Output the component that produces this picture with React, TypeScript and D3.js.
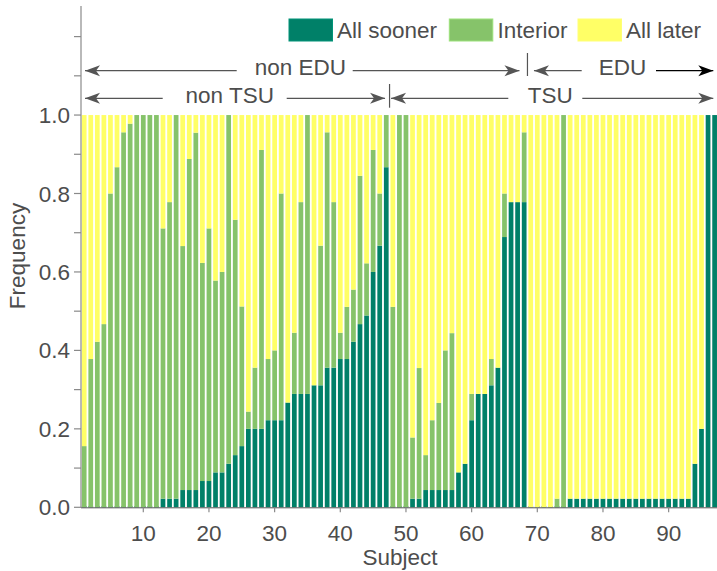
import React from 'react';
import * as d3 from 'd3';

// Subjects 1..97, share of choices per category (each bar sums to 1)
const subjects = d3.range(1, 98);

const sooner = [
  0, 0, 0, 0, 0, 0, 0, 0, 0, 0,
  0, 0, 0.022, 0.022, 0.022, 0.044, 0.044, 0.044, 0.067, 0.067,
  0.089, 0.089, 0.111, 0.133, 0.156, 0.2, 0.2, 0.2, 0.222, 0.222,
  0.222, 0.267, 0.289, 0.289, 0.289, 0.311, 0.311, 0.356, 0.356, 0.378,
  0.378, 0.422, 0.467, 0.489, 0.6, 0.667, 0.867, 0, 0, 0,
  0.022, 0.022, 0.044, 0.044, 0.044, 0.044, 0.044, 0.089, 0.111, 0.222,
  0.289, 0.289, 0.311, 0.356, 0.689, 0.778, 0.778, 0.778, 0, 0,
  0, 0, 0, 0, 0.022, 0.022, 0.022, 0.022, 0.022, 0.022,
  0.022, 0.022, 0.022, 0.022, 0.022, 0.022, 0.022, 0.022, 0.022, 0.022,
  0.022, 0.022, 0.022, 0.111, 0.2, 1, 1,
];

const interior = [
  0.156, 0.378, 0.422, 0.467, 0.8, 0.867, 0.956, 0.978, 1, 1,
  1, 1, 0.689, 0.756, 0.978, 0.622, 0.844, 0.911, 0.556, 0.644,
  0.489, 0.511, 0.889, 0.6, 0.356, 0.044, 0.156, 0.711, 0.156, 0.178,
  0.578, 0, 0.156, 0.489, 0.711, 0, 0.356, 0.6, 0.422, 0.067,
  0.133, 0.133, 0.378, 0.133, 0.311, 0.133, 0.133, 0.511, 1, 1,
  0.156, 0.333, 0.089, 0.178, 0.222, 0.356, 0.4, 0, 0, 0.067,
  0, 0, 0.067, 0, 0.111, 0, 0, 0.178, 0, 0,
  0, 0, 0.022, 1, 0, 0, 0, 0, 0, 0,
  0, 0, 0, 0, 0, 0, 0, 0, 0, 0,
  0, 0, 0, 0, 0, 0, 0,
];

const later = [
  0.844, 0.622, 0.578, 0.533, 0.2, 0.133, 0.044, 0.022, 0, 0,
  0, 0, 0.289, 0.222, 0, 0.334, 0.112, 0.045, 0.377, 0.289,
  0.422, 0.4, 0, 0.267, 0.488, 0.756, 0.644, 0.089, 0.622, 0.6,
  0.2, 0.733, 0.555, 0.222, 0, 0.689, 0.333, 0.044, 0.222, 0.555,
  0.489, 0.445, 0.155, 0.378, 0.089, 0.2, 0, 0.489, 0, 0,
  0.822, 0.645, 0.867, 0.778, 0.734, 0.6, 0.556, 0.911, 0.889, 0.711,
  0.711, 0.711, 0.622, 0.644, 0.2, 0.222, 0.222, 0.044, 1, 1,
  1, 1, 0.978, 0, 0.978, 0.978, 0.978, 0.978, 0.978, 0.978,
  0.978, 0.978, 0.978, 0.978, 0.978, 0.978, 0.978, 0.978, 0.978, 0.978,
  0.978, 0.978, 0.978, 0.889, 0.8, 0, 0,
];

const seriesKeys = ['sooner', 'interior', 'later'];
const seriesLabels = ['All sooner', 'Interior', 'All later'];
const seriesColors = ['#008068', '#86c36a', '#ffff66'];

const yTicks = d3.range(0, 1.25, 0.1);
const yLabelTicks = [0, 0.2, 0.4, 0.6, 0.8, 1.0];
const xTicks = [10, 20, 30, 40, 50, 60, 70, 80, 90];

const W = 717;
const H = 571;
const FONT = '"Liberation Sans", Arial, Helvetica, sans-serif';
const TEXT = '#4d4d4d';
const AXIS = '#8a8a8a';
const ARROW = '#555';

const App = () => {
  const x = d3.scaleBand<number>()
    .domain(subjects)
    .range([80.9, 717.9])
    .paddingInner(0.28)
    .paddingOuter(0.14);
  const y = d3.scaleLinear().domain([0, 1.278]).range([507.3, 6]);

  const table = subjects.map((s, i) => ({
    subject: s,
    sooner: sooner[i],
    interior: interior[i],
    later: later[i],
  }));
  const stacked = d3.stack<any>().keys(seriesKeys)(table);

  const step = x.step();
  const center = (s: number) => (x(s) as number) + x.bandwidth() / 2;
  const divTSU = center(47) + step / 2;
  const divEDU = center(68) + step / 2;
  const leftEnd = 85;
  const rightEnd = 713.3;

  // arrowhead with concave back; dir = -1 points left, 1 points right
  const head = (tx: number, ty: number, dir: number) => {
    const L = 15, h = 5.5, n = 11;
    return `M${tx},${ty}L${tx - dir * L},${ty - h}L${tx - dir * n},${ty}L${tx - dir * L},${ty + h}Z`;
  };

  const row1 = 70.7;
  const row2 = 98.3;
  const segments = [
    { x1: leftEnd, x2: 236.7, y: row1, left: true, right: false, color: ARROW },
    { x1: 352.7, x2: divEDU - 8, y: row1, left: false, right: true, color: ARROW },
    { x1: divEDU + 6.5, x2: 581.7, y: row1, left: true, right: false, color: ARROW },
    { x1: 656, x2: rightEnd, y: row1, left: false, right: true, color: '#000' },
    { x1: leftEnd, x2: 162.7, y: row2, left: true, right: false, color: ARROW },
    { x1: 286.7, x2: divTSU - 4.5, y: row2, left: false, right: true, color: ARROW },
    { x1: divTSU + 1.5, x2: 508.3, y: row2, left: true, right: false, color: ARROW },
    { x1: 582.3, x2: rightEnd, y: row2, left: false, right: true, color: ARROW },
  ];
  const labels = [
    { text: 'non EDU', x: 300.3, y: row1 },
    { text: 'EDU', x: 622.5, y: row1 },
    { text: 'non TSU', x: 229.7, y: row2 },
    { text: 'TSU', x: 550.2, y: row2 },
  ];

  const legend = [
    { rx: 289, tx: 337 },
    { rx: 449.3, tx: 497.5 },
    { rx: 578, tx: 626 },
  ];

  return (
    <svg width={W} height={H} style={{ position: 'absolute', left: 0, top: 0 }} fontFamily={FONT}>
      <rect width={W} height={H} fill="#fff" />

      {/* bars */}
      {stacked.map((layer, li) => (
        <g key={layer.key} fill={seriesColors[li]}>
          {layer.map((d: any) => {
            const top = y(d[1]);
            let hgt = y(d[0]) - top;
            if (li === 0 && hgt < 1.2) hgt = 1.2;
            const yy = li === 0 ? y(d[0]) - hgt : top;
            return (
              <rect key={d.data.subject} x={x(d.data.subject)} y={yy}
                width={x.bandwidth()} height={Math.max(0, hgt)} />
            );
          })}
        </g>
      ))}

      {/* y axis */}
      <line x1={81} x2={81} y1={6} y2={y(0)} stroke={AXIS} strokeWidth={1.2} />
      {yTicks.map((t) => (
        <line key={t} x1={74} x2={81} y1={y(t)} y2={y(t)} stroke={AXIS} strokeWidth={1.2} />
      ))}
      {yLabelTicks.map((t) => (
        <text key={t} x={70} y={y(t)} dy="0.36em" textAnchor="end" fontSize={22.5} fill={TEXT}>
          {d3.format('.1f')(t)}
        </text>
      ))}
      <text transform={`translate(25,256) rotate(-90)`} textAnchor="middle" fontSize={22.5} fill={TEXT}>
        Frequency
      </text>

      {/* x axis */}
      <line x1={81} x2={W} y1={y(0) + 0.5} y2={y(0) + 0.5} stroke="#555" strokeWidth={1} />
      {xTicks.map((t) => (
        <g key={t}>
          <line x1={center(t)} x2={center(t)} y1={y(0)} y2={y(0) + 5} stroke={AXIS} strokeWidth={1.2} />
          <text x={center(t)} y={541} textAnchor="middle" fontSize={22.5} fill={TEXT}>{t}</text>
        </g>
      ))}
      <text x={400} y={565} textAnchor="middle" fontSize={22.5} fill={TEXT}>Subject</text>

      {/* group annotations */}
      {segments.map((s, i) => (
        <g key={i} stroke={s.color} fill={s.color}>
          <line x1={s.x1} x2={s.x2} y1={s.y} y2={s.y} strokeWidth={1.3} />
          {s.left && <path d={head(s.x1, s.y, -1)} stroke="none" />}
          {s.right && <path d={head(s.x2, s.y, 1)} stroke="none" />}
        </g>
      ))}
      <line x1={divEDU} x2={divEDU} y1={53} y2={76} stroke={ARROW} strokeWidth={1.2} />
      <line x1={divTSU} x2={divTSU} y1={84} y2={107.7} stroke={ARROW} strokeWidth={1.2} />
      {labels.map((l) => (
        <text key={l.text} x={l.x} y={l.y + 4.5} textAnchor="middle" fontSize={22.5} fill={TEXT}>{l.text}</text>
      ))}

      {/* legend */}
      {legend.map((g, i) => (
        <g key={i}>
          <rect x={g.rx} y={19} width={43.5} height={22} fill={seriesColors[i]}
            stroke={d3.color(seriesColors[i])!.brighter(0.4).toString()} strokeWidth={1} />
          <text x={g.tx} y={38} fontSize={22.5} fill={TEXT}>{seriesLabels[i]}</text>
        </g>
      ))}
    </svg>
  );
};

export default App;
